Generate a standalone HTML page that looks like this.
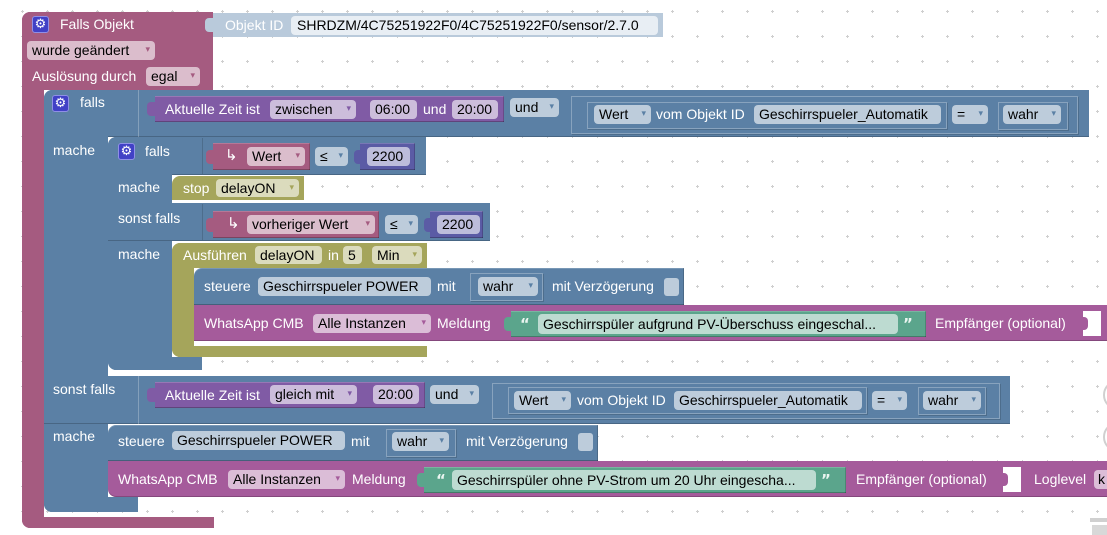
<!DOCTYPE html>
<html><head><meta charset="utf-8">
<style>
html,body{margin:0;padding:0;}
body{width:1107px;height:535px;overflow:hidden;position:relative;background:#fff;font-family:"Liberation Sans",Arial,sans-serif;}
.r{position:absolute;box-sizing:border-box;}
.t{position:absolute;color:#fff;font-size:14px;line-height:20px;white-space:nowrap;}
.q{position:absolute;color:#eaf5f0;font-family:"DejaVu Sans",sans-serif;font-weight:bold;font-size:15px;line-height:20px;white-space:nowrap;}
.f{position:absolute;color:#000;font-size:14px;height:19px;line-height:19px;border-radius:4px;white-space:nowrap;padding-left:5px;box-sizing:border-box;overflow:hidden;}
.f i{font-style:normal;font-family:"DejaVu Sans",sans-serif;font-size:9px;position:absolute;right:5px;top:0;}
.g{position:absolute;width:17px;height:17px;background:#4141c6;border:1px solid #8f8fe6;border-radius:3px;box-sizing:border-box;color:#fff;font-family:"DejaVu Sans",sans-serif;font-size:13px;line-height:15px;text-align:center;}
.sh{box-shadow:inset 0 -1px 0 rgba(0,0,0,.25),inset -1px 0 0 rgba(0,0,0,.18),inset 0 1px 0 rgba(255,255,255,.18);}
.ol{border:1px solid rgba(255,255,255,.28);box-shadow:1px 1px 0 rgba(0,0,0,.15);}
.B{background:#5b80a5;}
.P{background:#a55b80;}
.W{background:#a55b9b;}
.O{background:#a5a55b;}
.fb{background:#bdccdb;}
.fp{background:#dbbdcc;}
.fw{background:#dbbdd7;}
.fv{background:#ccbddb;}
.fo{background:#dbdbbd;}
</style></head><body>

<svg class="r" style="left:0;top:0" width="1107" height="535">
<defs><pattern id="gd" x="10" y="-1" width="25" height="25" patternUnits="userSpaceOnUse">
<path d="M11 12.5h3M12.5 11v3" stroke="#cfcfcf" stroke-width="1"/></pattern></defs>
<rect width="1107" height="535" fill="url(#gd)"/>
<circle cx="1118" cy="395" r="14" fill="none" stroke="#d0d0d0" stroke-width="2"/>
<circle cx="1118" cy="437" r="14" fill="none" stroke="#d0d0d0" stroke-width="2"/>
<circle cx="1118" cy="479" r="14" fill="none" stroke="#d0d0d0" stroke-width="2"/>
<rect x="1090" y="518" width="20" height="4" fill="#d0d0d0"/>
<rect x="1092" y="525" width="18" height="10" fill="#d8d8d8"/>
</svg>

<!-- Trigger block -->
<div class="r P" style="left:22px;top:12px;width:191px;height:78px;border-radius:8px 0 0 0"></div>
<div class="r P" style="left:22px;top:12px;width:22px;height:516px;border-radius:8px 0 0 8px"></div>
<div class="r P" style="left:22px;top:517px;width:192px;height:11px;border-radius:0 0 0 8px"></div>
<div class="g" style="left:32px;top:16px">⚙</div>
<div class="t" style="left:60px;top:14px">Falls Objekt</div>
<div class="f fp" style="left:27px;top:41px;width:128px">wurde geändert<i style="color:#a55b80">▾</i></div>
<div class="t" style="left:32px;top:66px">Auslösung durch</div>
<div class="f fp" style="left:146px;top:67px;width:54px">egal<i style="color:#a55b80">▾</i></div>

<!-- Objekt ID -->
<div class="r" style="left:205px;top:18px;width:10px;height:14px;background:#b9cadb;border-radius:4px 0 0 4px"></div>
<div class="r" style="left:213px;top:13px;width:450px;height:24px;background:#b9cadb"></div>
<div class="t" style="left:225px;top:15px">Objekt ID</div>
<div class="f" style="left:291px;top:16px;width:367px;background:#e8eef4;padding-left:6px">SHRDZM/4C75251922F0/4C75251922F0/sensor/2.7.0</div>

<!-- Outer if -->
<div class="r B" style="left:44px;top:90px;width:1045px;height:47px;border-radius:8px 0 0 0;box-shadow:inset 0 -1px 0 rgba(0,0,0,.2)"></div>
<div class="r B" style="left:44px;top:90px;width:64px;height:422px;border-radius:8px 0 0 8px"></div>
<div class="r B" style="left:44px;top:376px;width:966px;height:48px;box-shadow:inset 0 -1px 0 rgba(0,0,0,.2)"></div>
<div class="r B" style="left:44px;top:497px;width:94px;height:15px;border-radius:0 0 0 8px"></div>
<div class="r" style="left:138px;top:90px;width:1px;height:47px;background:rgba(255,255,255,.25)"></div>
<div class="r" style="left:138px;top:376px;width:1px;height:48px;background:rgba(255,255,255,.25)"></div>
<div class="g" style="left:52px;top:95px">⚙</div>
<div class="t" style="left:80px;top:92px">falls</div>
<div class="t" style="left:53px;top:140px">mache</div>
<div class="t" style="left:53px;top:379px">sonst falls</div>
<div class="t" style="left:53px;top:426px">mache</div>

<!-- row1 condition -->
<div class="r" style="left:147px;top:102px;width:10px;height:14px;background:#805ba5;border-radius:4px 0 0 4px"></div>
<div class="r sh" style="left:155px;top:96px;width:349px;height:26px;background:#805ba5"></div>
<div class="t" style="left:165px;top:99px">Aktuelle Zeit ist</div>
<div class="f fv" style="left:270px;top:100px;width:86px">zwischen<i style="color:#805ba5">▾</i></div>
<div class="f fv" style="left:370px;top:100px;width:47px">06:00</div>
<div class="t" style="left:423px;top:99px">und</div>
<div class="f fv" style="left:452px;top:100px;width:46px">20:00</div>
<div class="f fb" style="left:510px;top:98px;width:49px">und<i style="color:#5b80a5">▾</i></div>
<div class="r ol" style="left:571px;top:96px;width:507px;height:38px"></div>
<div class="r ol" style="left:587px;top:102px;width:360px;height:27px"></div>
<div class="f fb" style="left:594px;top:105px;width:57px">Wert<i style="color:#5b80a5">▾</i></div>
<div class="t" style="left:656px;top:104px">vom Objekt ID</div>
<div class="f fb" style="left:754px;top:105px;width:187px">Geschirrspueler_Automatik</div>
<div class="f fb" style="left:952px;top:105px;width:36px">=<i style="color:#5b80a5">▾</i></div>
<div class="r ol" style="left:998px;top:102px;width:70px;height:28px"></div>
<div class="f fb" style="left:1003px;top:105px;width:58px">wahr<i style="color:#5b80a5">▾</i></div>

<!-- Inner if -->
<div class="r B" style="left:108px;top:137px;width:318px;height:38px;border-radius:8px 0 0 0;box-shadow:inset 0 -1px 0 rgba(0,0,0,.2)"></div>
<div class="r B" style="left:108px;top:137px;width:64px;height:233px;border-radius:8px 0 0 8px"></div>
<div class="r B" style="left:108px;top:203px;width:382px;height:38px;box-shadow:inset 0 -1px 0 rgba(0,0,0,.2)"></div>
<div class="r B" style="left:108px;top:357px;width:94px;height:13px;border-radius:0 0 0 8px"></div>
<div class="r" style="left:202px;top:138px;width:1px;height:36px;background:rgba(0,0,0,.15)"></div>
<div class="r" style="left:202px;top:204px;width:1px;height:36px;background:rgba(0,0,0,.15)"></div>
<div class="g" style="left:118px;top:143px">⚙</div>
<div class="t" style="left:145px;top:141px">falls</div>
<div class="t" style="left:118px;top:177px">mache</div>
<div class="t" style="left:118px;top:208px">sonst falls</div>
<div class="t" style="left:118px;top:244px">mache</div>

<!-- inner row1 -->
<div class="r P" style="left:206px;top:150px;width:9px;height:14px;border-radius:4px 0 0 4px"></div>
<div class="r P sh" style="left:213px;top:143px;width:97px;height:27px"></div>
<div class="t" style="left:225px;top:146px;font-size:15px">↳</div>
<div class="f fp" style="left:247px;top:147px;width:58px">Wert<i style="color:#a55b80">▾</i></div>
<div class="f fb" style="left:315px;top:147px;width:33px">≤<i style="color:#5b80a5">▾</i></div>
<div class="r" style="left:354px;top:150px;width:9px;height:14px;background:#5b5ba5;border-radius:4px 0 0 4px"></div>
<div class="r sh" style="left:360px;top:143px;width:55px;height:27px;background:#5b5ba5"></div>
<div class="f" style="left:367px;top:147px;width:43px;background:#bdbddb">2200</div>

<!-- stop block -->
<div class="r O" style="left:172px;top:176px;width:132px;height:24px;border-radius:8px 0 0 0"></div>
<div class="t" style="left:183px;top:178px">stop</div>
<div class="f fo" style="left:216px;top:179px;width:83px;height:18px;line-height:18px">delayON<i style="color:#a5a55b">▾</i></div>

<!-- inner sonst row -->
<div class="r P" style="left:206px;top:218px;width:9px;height:14px;border-radius:4px 0 0 4px"></div>
<div class="r P sh" style="left:213px;top:211px;width:166px;height:27px"></div>
<div class="t" style="left:227px;top:214px;font-size:15px">↳</div>
<div class="f fp" style="left:247px;top:215px;width:128px">vorheriger Wert<i style="color:#a55b80">▾</i></div>
<div class="f fb" style="left:385px;top:215px;width:33px">≤<i style="color:#5b80a5">▾</i></div>
<div class="r" style="left:424px;top:218px;width:9px;height:14px;background:#5b5ba5;border-radius:4px 0 0 4px"></div>
<div class="r sh" style="left:430px;top:211px;width:53px;height:27px;background:#5b5ba5"></div>
<div class="f" style="left:437px;top:215px;width:43px;background:#bdbddb">2200</div>

<!-- Ausführen -->
<div class="r O" style="left:172px;top:243px;width:255px;height:25px;border-radius:8px 0 0 0"></div>
<div class="r O" style="left:172px;top:243px;width:22px;height:114px;border-radius:8px 0 0 8px"></div>
<div class="r O" style="left:172px;top:346px;width:255px;height:11px;border-radius:0 0 0 8px"></div>
<div class="t" style="left:183px;top:245px">Ausführen</div>
<div class="f fo" style="left:255px;top:246px;width:67px;height:18px;line-height:18px">delayON</div>
<div class="t" style="left:328px;top:245px">in</div>
<div class="f fo" style="left:343px;top:246px;width:19px;height:18px;line-height:18px">5</div>
<div class="f fo" style="left:372px;top:246px;width:50px;height:18px;line-height:18px">Min<i style="color:#a5a55b">▾</i></div>

<!-- steuere 1 -->
<div class="r B sh" style="left:194px;top:268px;width:490px;height:37px;border-radius:8px 0 0 0"></div>
<div class="t" style="left:204px;top:276px">steuere</div>
<div class="f fb" style="left:258px;top:277px;width:173px">Geschirrspueler POWER</div>
<div class="t" style="left:437px;top:276px">mit</div>
<div class="r ol" style="left:470px;top:273px;width:73px;height:28px"></div>
<div class="f fb" style="left:478px;top:277px;width:60px">wahr<i style="color:#5b80a5">▾</i></div>
<div class="t" style="left:552px;top:276px">mit Verzögerung</div>
<div class="r fb" style="left:664px;top:278px;width:15px;height:18px;border-radius:3px"></div>

<!-- WhatsApp 1 -->
<div class="r W" style="left:194px;top:305px;width:913px;height:36px;box-shadow:inset 0 -1px 0 rgba(0,0,0,.2)"></div>
<div class="t" style="left:204px;top:313px">WhatsApp CMB</div>
<div class="f fw" style="left:313px;top:314px;width:118px">Alle Instanzen<i style="color:#a55b9b">▾</i></div>
<div class="t" style="left:437px;top:313px">Meldung</div>
<div class="r" style="left:504px;top:317px;width:9px;height:14px;background:#5ba58c;border-radius:4px 0 0 4px"></div>
<div class="r sh" style="left:511px;top:311px;width:415px;height:26px;background:#5ba58c"></div>
<div class="q" style="left:520px;top:314px">“</div>
<div class="f" style="left:538px;top:314px;width:360px;height:20px;line-height:20px;background:#bddbd1">Geschirrspüler aufgrund PV-Überschuss eingeschal...</div>
<div class="q" style="left:903px;top:314px">”</div>
<div class="t" style="left:935px;top:313px">Empfänger (optional)</div>
<div class="r" style="left:1083px;top:311px;width:18px;height:25px;background:#fff"></div>
<div class="r W" style="left:1083px;top:317px;width:5px;height:13px;border-radius:0 4px 4px 0"></div>

<!-- outer sonst row -->
<div class="r" style="left:147px;top:388px;width:10px;height:14px;background:#805ba5;border-radius:4px 0 0 4px"></div>
<div class="r sh" style="left:155px;top:382px;width:270px;height:26px;background:#805ba5"></div>
<div class="t" style="left:165px;top:385px">Aktuelle Zeit ist</div>
<div class="f fv" style="left:270px;top:385px;width:87px">gleich mit<i style="color:#805ba5">▾</i></div>
<div class="f fv" style="left:373px;top:385px;width:46px">20:00</div>
<div class="f fb" style="left:430px;top:385px;width:49px">und<i style="color:#5b80a5">▾</i></div>
<div class="r ol" style="left:492px;top:383px;width:508px;height:36px"></div>
<div class="r ol" style="left:508px;top:387px;width:359px;height:27px"></div>
<div class="f fb" style="left:514px;top:391px;width:57px">Wert<i style="color:#5b80a5">▾</i></div>
<div class="t" style="left:577px;top:390px">vom Objekt ID</div>
<div class="f fb" style="left:674px;top:391px;width:188px">Geschirrspueler_Automatik</div>
<div class="f fb" style="left:872px;top:391px;width:35px">=<i style="color:#5b80a5">▾</i></div>
<div class="r ol" style="left:918px;top:387px;width:68px;height:28px"></div>
<div class="f fb" style="left:923px;top:391px;width:58px">wahr<i style="color:#5b80a5">▾</i></div>

<!-- steuere 2 -->
<div class="r B sh" style="left:108px;top:425px;width:490px;height:36px;border-radius:8px 0 0 0"></div>
<div class="t" style="left:118px;top:431px">steuere</div>
<div class="f fb" style="left:172px;top:431px;width:173px">Geschirrspueler POWER</div>
<div class="t" style="left:351px;top:431px">mit</div>
<div class="r ol" style="left:386px;top:429px;width:70px;height:28px"></div>
<div class="f fb" style="left:392px;top:432px;width:57px">wahr<i style="color:#5b80a5">▾</i></div>
<div class="t" style="left:466px;top:431px">mit Verzögerung</div>
<div class="r fb" style="left:578px;top:433px;width:15px;height:18px;border-radius:3px"></div>

<!-- WhatsApp 2 -->
<div class="r W" style="left:108px;top:461px;width:999px;height:36px;border-radius:0 0 0 8px;box-shadow:inset 0 -1px 0 rgba(0,0,0,.2)"></div>
<div class="t" style="left:118px;top:469px">WhatsApp CMB</div>
<div class="f fw" style="left:228px;top:470px;width:117px">Alle Instanzen<i style="color:#a55b9b">▾</i></div>
<div class="t" style="left:352px;top:469px">Meldung</div>
<div class="r" style="left:417px;top:473px;width:9px;height:14px;background:#5ba58c;border-radius:4px 0 0 4px"></div>
<div class="r sh" style="left:424px;top:467px;width:422px;height:26px;background:#5ba58c"></div>
<div class="q" style="left:436px;top:470px">“</div>
<div class="f" style="left:452px;top:470px;width:364px;height:20px;line-height:20px;background:#bddbd1">Geschirrspüler ohne PV-Strom um 20 Uhr eingescha...</div>
<div class="q" style="left:821px;top:470px">”</div>
<div class="t" style="left:856px;top:469px">Empfänger (optional)</div>
<div class="r" style="left:1003px;top:467px;width:18px;height:25px;background:#fff"></div>
<div class="r W" style="left:1003px;top:473px;width:5px;height:13px;border-radius:0 4px 4px 0"></div>
<div class="t" style="left:1034px;top:469px">Loglevel</div>
<div class="f fw" style="left:1094px;top:470px;width:20px;padding-left:4px">k</div>

</body></html>
